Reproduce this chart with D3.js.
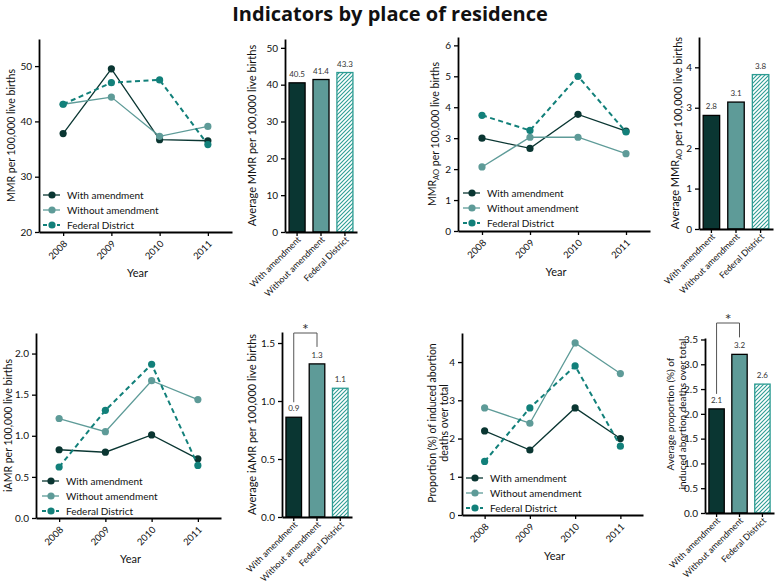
<!DOCTYPE html>
<html>
<head>
<meta charset="utf-8">
<script src="https://cdn.jsdelivr.net/npm/d3@7"></script>
<style>
  body { margin: 0; background: #fff; }
  text { font-family: Lato, "Open Sans", sans-serif; fill: #111; }
  .axis path, .axis line { stroke: #000; }
  .axis path { stroke-width: 1.8; }
  .axis line { stroke-width: 1.3; }
  .axis text { font-size: 10px; fill: #111; }
</style>
</head>
<body>
<script>
const years = [2008, 2009, 2010, 2011]
const groups = ['With amendment', 'Without amendment', 'Federal District']

// MMR per 100,000 live births
const mmrWith = [37.8, 49.5, 36.7, 36.5]
const mmrWithout = [43.1, 44.4, 37.3, 39.1]
const mmrFederal = [43.1, 47.0, 47.5, 35.8]
const mmrAverage = [40.5, 41.4, 43.3]

// MMR AO per 100,000 live births
const mmraoWith = [3.0, 2.67, 3.77, 3.23]
const mmraoWithout = [2.07, 3.03, 3.03, 2.5]
const mmraoFederal = [3.74, 3.25, 5.0, 3.2]
const mmraoAverage = [2.81, 3.14, 3.82]

// iAMR per 100,000 live births
const iamrWith = [0.83, 0.80, 1.01, 0.72]
const iamrWithout = [1.21, 1.05, 1.67, 1.44]
const iamrFederal = [0.62, 1.31, 1.87, 0.64]
const iamrAverage = [0.86, 1.32, 1.11]

// proportion (%) of induced abortion deaths over total
const propWith = [2.2, 1.7, 2.8, 2.0]
const propWithout = [2.8, 2.4, 4.5, 3.7]
const propFederal = [1.4, 2.8, 3.9, 1.8]
const propAverage = [2.1, 3.2, 2.6]

const colors = ['#0a3632', '#5e9b98', '#12807a']
const hatchColor = '#2d9c93'

const svg = d3.select('body').append('svg')
  .attr('width', 775)
  .attr('height', 584)

const defs = svg.append('defs')
defs.append('pattern')
  .attr('id', 'hatch')
  .attr('patternUnits', 'userSpaceOnUse')
  .attr('width', 4).attr('height', 4)
  .append('path')
  .attr('d', 'M-1,1 l2,-2 M0,4 l4,-4 M3,5 l2,-2')
  .attr('stroke', hatchColor)
  .attr('stroke-width', 1.1)

svg.append('text')
  .attr('x', 390).attr('y', 21)
  .attr('text-anchor', 'middle')
  .style('font-family', '"Open Sans", sans-serif')
  .style('font-size', '20px')
  .style('font-weight', 'bold')
  .text('Indicators by place of residence')

// y label, possibly with a subscript and several lines
function yLabel(g, lines, x, cy, size) {
  lines.forEach((parts, i) => {
    const t = g.append('text')
      .attr('transform', `translate(${x + i * 12},${cy}) rotate(-90)`)
      .attr('text-anchor', 'middle')
      .style('font-size', size + 'px')
    parts.forEach(p => {
      if (p.sub) {
        t.append('tspan').text(p.sub).style('font-size', '7.5px').attr('dy', 3)
        t.append('tspan').text('').attr('dy', -3)
      } else {
        t.append('tspan').text(p.text)
      }
    })
  })
}

function rotateTicks(axisG, size, down) {
  axisG.selectAll('text')
    .attr('x', 0).attr('y', 0)
    .attr('dy', '0.35em')
    .attr('text-anchor', 'end')
    .attr('transform', `translate(2,${down}) rotate(-45)`)
    .style('font-size', size + 'px')
}

function drawLines(p) {
  const g = svg.append('g')
  const x = d3.scalePoint().domain(years).range([p.left, p.right]).padding(0.5)
  const y = d3.scaleLinear().domain(p.yDomain).range([p.bottom, p.top])

  const series = [p.with, p.without, p.federal]

  const line = d3.line()
    .x((d, i) => x(years[i]))
    .y(d => y(d))

  series.forEach((vals, s) => {
    g.append('path')
      .attr('d', line(vals))
      .attr('fill', 'none')
      .attr('stroke', colors[s])
      .attr('stroke-width', s === 2 ? 2 : 1.3)
      .attr('stroke-dasharray', s === 2 ? '5,3.5' : null)
    g.selectAll(null).data(vals).enter().append('circle')
      .attr('cx', (d, i) => x(years[i]))
      .attr('cy', d => y(d))
      .attr('r', 3.6)
      .attr('fill', colors[s])
  })

  g.append('g').attr('class', 'axis')
    .attr('transform', `translate(${p.left},0)`)
    .call(d3.axisLeft(y).tickValues(p.ticks).tickSize(4).tickSizeOuter(0).tickFormat(d3.format(p.fmt)))

  const xa = g.append('g').attr('class', 'axis')
    .attr('transform', `translate(0,${p.bottom})`)
    .call(d3.axisBottom(x).tickSize(4).tickSizeOuter(0))
  rotateTicks(xa, 9.5, 10)

  g.append('text')
    .attr('x', (p.left + p.right) / 2 + 2)
    .attr('y', p.bottom + 45)
    .attr('text-anchor', 'middle')
    .style('font-size', '11px')
    .text('Year')

  // legend
  const lg = g.append('g').attr('transform', `translate(${p.legend[0]},${p.legend[1]})`)
  groups.forEach((name, s) => {
    const row = lg.append('g').attr('transform', `translate(0,${s * 15})`)
    row.append('line')
      .attr('x1', 0).attr('x2', 17)
      .attr('stroke', colors[s])
      .attr('stroke-width', s === 2 ? 2 : 1.3)
      .attr('stroke-dasharray', s === 2 ? '4,3' : null)
    row.append('circle').attr('cx', 9).attr('r', 3.6).attr('fill', colors[s])
    row.append('text').attr('x', 24).attr('dy', '0.35em')
      .style('font-size', '10px').text(name)
  })

  yLabel(g, p.label, p.labelX, p.labelY || (p.top + p.bottom) / 2, 10.5)
}

function drawBars(p) {
  const g = svg.append('g')
  const x = d3.scaleBand().domain(groups).range([p.left, p.right])
    .paddingInner(0.33).paddingOuter(0.17)
  const y = d3.scaleLinear().domain(p.yDomain).range([p.bottom, p.top])

  g.selectAll('rect.bar').data(p.values).enter().append('rect')
    .attr('class', 'bar')
    .attr('x', (d, i) => x(groups[i]))
    .attr('width', x.bandwidth())
    .attr('y', d => y(d))
    .attr('height', d => y(0) - y(d))
    .attr('fill', (d, i) => i === 2 ? 'url(#hatch)' : colors[i])
    .attr('stroke', (d, i) => i === 2 ? hatchColor : '#000')
    .attr('stroke-width', 1.3)

  g.selectAll('text.val').data(p.values).enter().append('text')
    .attr('class', 'val')
    .attr('x', (d, i) => x(groups[i]) + x.bandwidth() / 2)
    .attr('y', d => y(d) - 6)
    .attr('text-anchor', 'middle')
    .style('font-size', '8px')
    .style('fill', '#333')
    .text(d => d.toFixed(1))

  g.append('g').attr('class', 'axis')
    .attr('transform', `translate(${p.left},0)`)
    .call(d3.axisLeft(y).tickValues(p.ticks).tickSize(4).tickSizeOuter(0).tickFormat(d3.format(p.fmt)))

  const xa = g.append('g').attr('class', 'axis')
    .attr('transform', `translate(0,${p.bottom})`)
    .call(d3.axisBottom(x).tickSize(4).tickSizeOuter(0))
  rotateTicks(xa, 8.8, 6)

  if (p.bracketTop) {
    const c0 = x(groups[0]) + x.bandwidth() / 2
    const c1 = x(groups[1]) + x.bandwidth() / 2
    const top = p.bracketTop
    g.append('path')
      .attr('d', `M${c0},${y(p.values[0]) - 15}V${top}H${c1}V${y(p.values[1]) - 17}`)
      .attr('fill', 'none')
      .attr('stroke', '#555')
      .attr('stroke-width', 1)
    g.append('text')
      .attr('x', (c0 + c1) / 2).attr('y', top + 2)
      .attr('text-anchor', 'middle')
      .style('font-size', '16px')
      .style('fill', '#333')
      .text('*')
  }

  yLabel(g, p.label, p.labelX, p.labelY || (p.top + p.bottom) / 2, p.labelSize || 11)
}

drawLines({
  left: 39, right: 232, top: 39, bottom: 232,
  yDomain: [20, 54.9], ticks: [20, 30, 40, 50], fmt: 'd',
  with: mmrWith, without: mmrWithout, federal: mmrFederal,
  legend: [43, 195],
  label: [[{text: 'MMR per 100,000 live births'}]], labelX: 15
})

drawBars({
  left: 285, right: 357, top: 39, bottom: 232,
  yDomain: [0, 52.4], ticks: [0, 10, 20, 30, 40, 50], fmt: 'd',
  values: mmrAverage,
  label: [[{text: 'Average MMR per 100,000 live births'}]], labelX: 256
})

drawLines({
  left: 458, right: 650, top: 37, bottom: 231,
  yDomain: [0, 6.27], ticks: [0, 1, 2, 3, 4, 5, 6], fmt: 'd',
  with: mmraoWith, without: mmraoWithout, federal: mmraoFederal,
  legend: [463, 193],
  label: [[{text: 'MMR'}, {sub: 'AO'}, {text: ' per 100,000 live births'}]], labelX: 436
})

drawBars({
  left: 699, right: 773, top: 37, bottom: 229,
  yDomain: [0, 4.75], ticks: [0, 1, 2, 3, 4], fmt: 'd',
  values: mmraoAverage,
  label: [[{text: 'Average MMR'}, {sub: 'AO'}, {text: ' per 100,000 live births'}]], labelX: 679
})

drawLines({
  left: 36, right: 221, top: 333, bottom: 518,
  yDomain: [0, 2.25], ticks: [0, 0.5, 1, 1.5, 2], fmt: '.1f',
  with: iamrWith, without: iamrWithout, federal: iamrFederal,
  legend: [42, 481],
  label: [[{text: 'iAMR per 100,000 live births'}]], labelX: 12
})

drawBars({
  left: 282, right: 352, top: 332, bottom: 517,
  yDomain: [0, 1.595], ticks: [0, 0.5, 1, 1.5], fmt: '.1f',
  values: iamrAverage, bracketTop: 333,
  label: [[{text: 'Average iAMR per 100,000 live births'}]], labelX: 256
})

drawLines({
  left: 462, right: 643, top: 333, bottom: 515,
  yDomain: [0, 4.76], ticks: [0, 1, 2, 3, 4], fmt: 'd',
  with: propWith, without: propWithout, federal: propFederal,
  legend: [466, 478],
  label: [[{text: 'Proportion (%) of induced abortion'}], [{text: 'deaths over total'}]], labelX: 436, labelY: 423
})

drawBars({
  left: 705, right: 774, top: 338, bottom: 513,
  yDomain: [0, 3.53], ticks: [0, 0.5, 1, 1.5, 2, 2.5, 3, 3.5], fmt: '.1f',
  values: propAverage, bracketTop: 323,
  label: [[{text: 'Average proportion (%) of'}], [{text: 'induced abortion deaths over total'}]],
  labelX: 674, labelY: 414, labelSize: 10
})
</script>
</body>
</html>
